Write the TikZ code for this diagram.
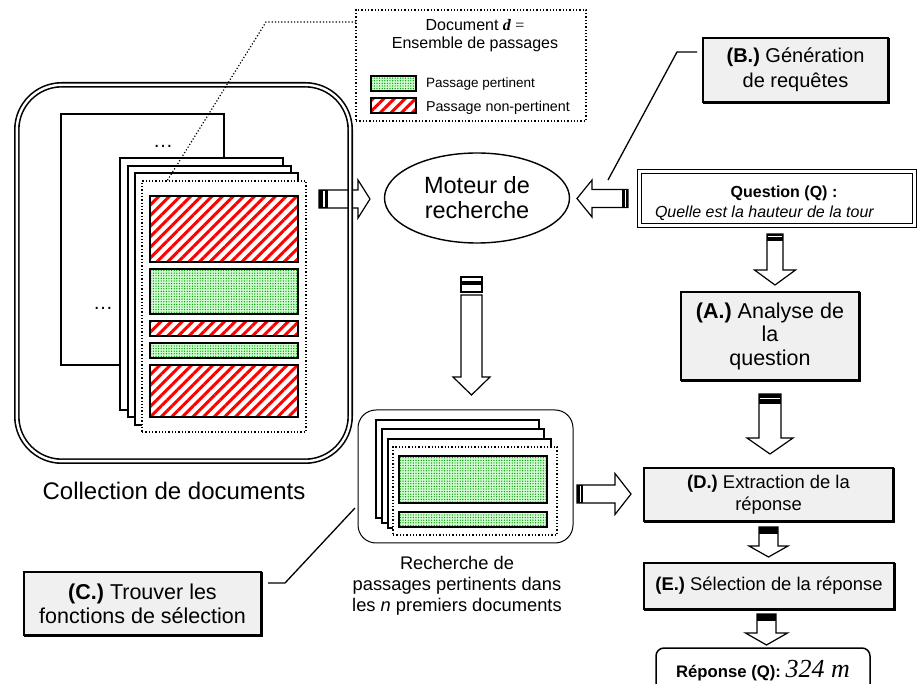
\documentclass[tikz,border=0pt]{standalone}
\usepackage{fontspec}
\setmainfont{Liberation Sans}
\newfontfamily\serifrm{Liberation Serif}
\usetikzlibrary{patterns.meta,shapes.geometric}

\tikzset{
  every node/.style={inner sep=0pt,outer sep=0pt},
  procbox/.style={draw=black,line width=1.4pt,fill=gray!12,align=center},
  doclayer/.style={draw=black,line width=1.3pt,fill=white},
  frontpage/.style={draw=black,dotted,line width=1.3pt,fill=white},
  relpass/.style={draw=black,line width=1.2pt,preaction={fill=green!18},
     pattern={Dots[radius=0.7pt,distance=2.6pt]},pattern color=green!60!black},
  nonrel/.style={draw=black,line width=1.2pt,preaction={fill=white},
     pattern={Lines[angle=45,distance=7.5pt,line width=3pt]},pattern color=red},
  blockarrow/.style={draw=black,line width=1.2pt,fill=white,line join=miter},
  thinlink/.style={draw=black,line width=1.3pt},
}

% horizontal block arrow: tail x, head base x, tip x, y, tail half, head half
\newcommand{\hblock}[6]{%
  \draw[blockarrow] (#1,#4-#5) -- (#2,#4-#5) -- (#2,#4-#6) -- (#3,#4)
     -- (#2,#4+#6) -- (#2,#4+#5) -- (#1,#4+#5) -- cycle;}
% vertical block arrow: center x, tail top y, head base y, tip y, tail half, head half
\newcommand{\vblock}[6]{%
  \draw[blockarrow] (#1-#5,#2) -- (#1-#5,#3) -- (#1-#6,#3) -- (#1,#4)
     -- (#1+#6,#3) -- (#1+#5,#3) -- (#1+#5,#2) -- cycle;}
\newcommand{\shadowedge}[1]{%
  \draw[line width=1.2pt] ([xshift=1pt]#1.north east) -- ([shift={(1pt,-1pt)}]#1.south east) -- ([yshift=-1pt]#1.south west);}

\begin{document}
\begin{tikzpicture}[x=1pt,y=-1pt]
\useasboundingbox (0,0) rectangle (919,684);

% ---------- arrow collection -> moteur (under the collection frame)
\hblock{319}{358}{370}{199}{9}{19}
\fill[black] (319,190) rectangle (328,208);
\draw[white,line width=1.2pt] (324,190.8) -- (324,207.2);

% ---------- collection of documents
\node[draw,double,line width=1.6pt,double distance=2.4pt,rounded corners=45pt,
      minimum width=333.4pt,minimum height=376.4pt] (coll) at (183.5,273) {};
\draw[doclayer] (61,114) rectangle (224,365);
\node[anchor=base,font=\fontsize{20}{24}\selectfont] (dots1) at (163,148) {…};
\draw[doclayer] (120,158) rectangle (283,410);
\node[anchor=base,font=\fontsize{20}{24}\selectfont] (dots2) at (103,310) {…};
\draw[doclayer] (128,166) rectangle (291,417);
\draw[doclayer] (135,173) rectangle (298,425);
\node[frontpage,minimum width=164pt,minimum height=251pt] (doc) at (224,306.5) {};
\draw[nonrel] (150,196) rectangle (298,262);
\draw[relpass] (150,269) rectangle (298,314);
\draw[nonrel] (150,321) rectangle (298,336);
\draw[relpass] (150,343) rectangle (298,358);
\draw[nonrel] (150,365) rectangle (298,417);
\node[anchor=base,font=\fontsize{24}{28}\selectfont] (colllab) at (174,500) {Collection de documents};

% ---------- legend
\node[draw,dotted,line width=1.3pt,minimum width=230pt,minimum height=111pt] (legend) at (471,65.5) {};
\coordinate (lbend) at (266,22);
\draw[dotted,line width=1.2pt] ([yshift=-12pt]legend.north west) -- (lbend) -- ([xshift=25pt]doc.north west);
\node[anchor=base,font=\fontsize{16}{18}\selectfont] (lt1) at (475,31)
  {Document {\serifrm\bfseries\itshape d} {\serifrm =}};
\node[anchor=base,font=\fontsize{16}{18}\selectfont] (lt2) at (475,49) {Ensemble de passages};
\node[relpass,minimum width=45pt,minimum height=15pt] (sw1) at (393.5,83.5) {};
\node[nonrel,minimum width=45pt,minimum height=15pt] (sw2) at (393.5,105.5) {};
\node[anchor=base west,font=\fontsize{13.5}{16}\selectfont] (l1) at (426,88) {Passage pertinent};
\node[anchor=base west,font=\fontsize{14.3}{16}\selectfont] (l2) at (426,112) {Passage non-pertinent};

% ---------- search engine
\node[draw,ellipse,line width=1.4pt,minimum width=185pt,minimum height=90pt,align=center,
      font=\fontsize{23.5}{25}\selectfont] (moteur) at (477,198) {Moteur de\\recherche};

% ---------- question
\node[draw,double,line width=1.3pt,double distance=2.5pt,minimum width=275pt,minimum height=54pt] (question) at (777,198.5) {};
\node[anchor=base,font=\bfseries\fontsize{16}{18}\selectfont] (qt) at (784,198) {Question (Q) :};
\node[anchor=base west,font=\itshape\fontsize{16}{18}\selectfont] (qi) at (655,218) {Quelle est la hauteur de la tour};

% arrow question -> moteur
\hblock{628}{592}{577}{198.5}{9}{18.5}
\fill[black] (622,189.5) rectangle (628,207.5);
\draw[white,line width=1pt] (625,190.3) -- (625,206.7);

% ---------- (B.) box
\node[procbox,minimum width=185pt,minimum height=64pt,font=\fontsize{20}{25}\selectfont] (genB) at (795.5,70)
  {\textbf{(B.)} Génération\\de requêtes};
\shadowedge{genB}
\coordinate (bbend) at (677,52);
\coordinate (bend) at (608,180);
\draw[thinlink] ([shift={(-6pt,18pt)}]genB.west) -- (bbend) -- (bend);

% ---------- (A.) box
\vblock{775}{234}{270}{285}{8}{20.5}
\fill[black] (767,234) rectangle (783,241);
\draw[white,line width=1pt] (767.8,237) -- (782.2,237);
\node[procbox,minimum width=178pt,minimum height=88pt,font=\fontsize{21.5}{23.5}\selectfont] (anaA) at (770,336)
  {\textbf{(A.)} Analyse de\\la\\question};
\shadowedge{anaA}

% arrow A -> D
\vblock{770}{394}{438}{454}{11}{23}
\fill[black] (759,394) rectangle (781,404);
\draw[white,line width=1.2pt] (759.8,398.5) -- (780.2,398.5);

% ---------- (D.) box
\node[procbox,minimum width=249pt,minimum height=53pt,font=\fontsize{18.4}{22}\selectfont] (extD) at (768.5,494.5)
  {\textbf{(D.)} Extraction de la\\réponse};
\shadowedge{extD}

% arrow D -> E
\vblock{768.5}{527}{546}{557}{9.5}{19.5}
\fill[black] (759,527) rectangle (778,534);

% ---------- (E.) box
\node[procbox,minimum width=250pt,minimum height=46pt,font=\fontsize{18.4}{22}\selectfont] (selE) at (769,586)
  {\textbf{(E.)} Sélection de la réponse};
\shadowedge{selE}

% arrow E -> answer
\vblock{766.5}{614}{633}{645}{9.5}{21}
\fill[black] (757,614) rectangle (776,621);

% ---------- answer
\node[draw,line width=1.5pt,rounded corners=8pt,minimum width=214pt,minimum height=56pt] (answer) at (763,676) {};
\node[anchor=base] (at) at (763,677)
  {\fontsize{16.7}{20}\selectfont\textbf{Réponse (Q):} {\serifrm\itshape\fontsize{26}{28}\selectfont 324 m}};

% ---------- arrow moteur -> passages
\draw[blockarrow] (461,277) rectangle (482,282);
\draw[blockarrow] (461,284) rectangle (482,292);
\vblock{471.5}{295}{377}{395}{10.5}{18.5}

% ---------- passages group
\node[draw,line width=1pt,rounded corners=18pt,minimum width=215pt,minimum height=133pt] (pbox) at (465.5,476.5) {};
\draw[doclayer] (376,420) rectangle (539,518);
\draw[doclayer] (382,429) rectangle (544,523);
\draw[doclayer] (388,439) rectangle (551,528);
\node[frontpage,minimum width=164pt,minimum height=88pt] (pdoc) at (475,491) {};
\draw[relpass] (399,456) rectangle (547,503);
\draw[relpass] (399,512) rectangle (547,527);
\node[align=center,font=\fontsize{18.3}{21}\selectfont] (plab) at (457,586)
  {Recherche de\\passages pertinents dans\\les \textit{n} premiers documents};

% arrow passages -> D
\hblock{577}{615}{631}{494}{9}{20.5}
\fill[black] (577,485) rectangle (583,503);
\draw[white,line width=1pt] (580.5,485.8) -- (580.5,502.2);

% ---------- (C.) box
\node[procbox,minimum width=237pt,minimum height=63pt,font=\fontsize{21.5}{24}\selectfont] (findC) at (142.5,603.5)
  {\textbf{(C.)} Trouver les\\fonctions de sélection};
\shadowedge{findC}
\coordinate (cbend) at (285,583);
\coordinate (cend) at (355,508);
\draw[thinlink] ([shift={(7pt,20.5pt)}]findC.east) -- (cbend) -- (cend);

\end{tikzpicture}
\end{document}
